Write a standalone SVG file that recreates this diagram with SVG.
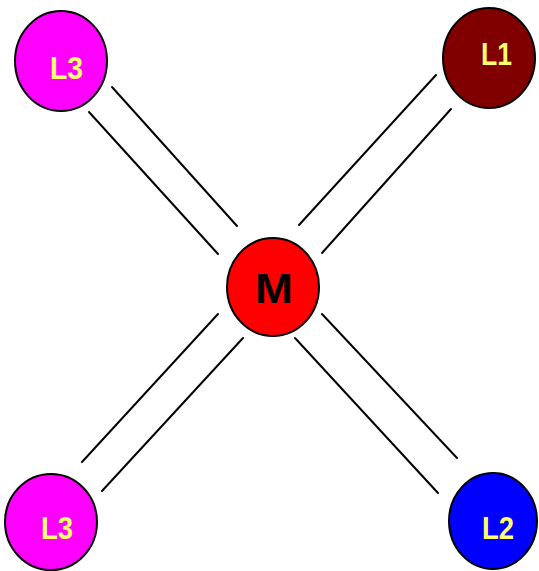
<svg xmlns="http://www.w3.org/2000/svg" width="539" height="571" viewBox="0 0 539 571">
<style>
.n{stroke:#000;stroke-width:2}
.t{font-family:"Liberation Sans",Arial,sans-serif;font-weight:bold;font-size:32px;fill:#ffff70;text-anchor:middle}
.c line{stroke:#000;stroke-width:2;stroke-linecap:round}
</style>
<rect width="539" height="571" fill="#fff"/>
<g id="connectors" class="c">
<line x1="112" y1="87" x2="237" y2="226"/>
<line x1="89" y1="112" x2="218" y2="254"/>
<line x1="436" y1="75" x2="299" y2="225"/>
<line x1="451" y1="109" x2="322" y2="253"/>
<line x1="218" y1="314" x2="82" y2="462"/>
<line x1="243" y1="338" x2="102" y2="491"/>
<line x1="322" y1="314" x2="457" y2="458"/>
<line x1="295" y1="338" x2="438" y2="493"/>
</g>
<g id="L3a"><ellipse class="n" cx="61" cy="61" rx="46" ry="50" fill="#ff00ff"/><text class="t" x="66.5" y="79" textLength="33" lengthAdjust="spacingAndGlyphs">L3</text></g>
<g id="L1"><ellipse class="n" cx="489" cy="58" rx="46" ry="50" fill="#800000"/><text class="t" x="496.5" y="65" textLength="31" lengthAdjust="spacingAndGlyphs">L1</text></g>
<g id="M"><ellipse class="n" cx="273" cy="287" rx="46" ry="49" fill="#ff0000"/><text class="t" x="274" y="303" textLength="38" lengthAdjust="spacingAndGlyphs" style="font-size:43px;fill:#000">M</text></g>
<g id="L3b"><ellipse class="n" cx="51" cy="522" rx="46" ry="48" fill="#ff00ff"/><text class="t" x="57" y="539" textLength="32" lengthAdjust="spacingAndGlyphs">L3</text></g>
<g id="L2"><ellipse class="n" cx="493" cy="521" rx="44" ry="48" fill="#0000ff"/><text class="t" x="498" y="539" textLength="32" lengthAdjust="spacingAndGlyphs">L2</text></g>
</svg>
